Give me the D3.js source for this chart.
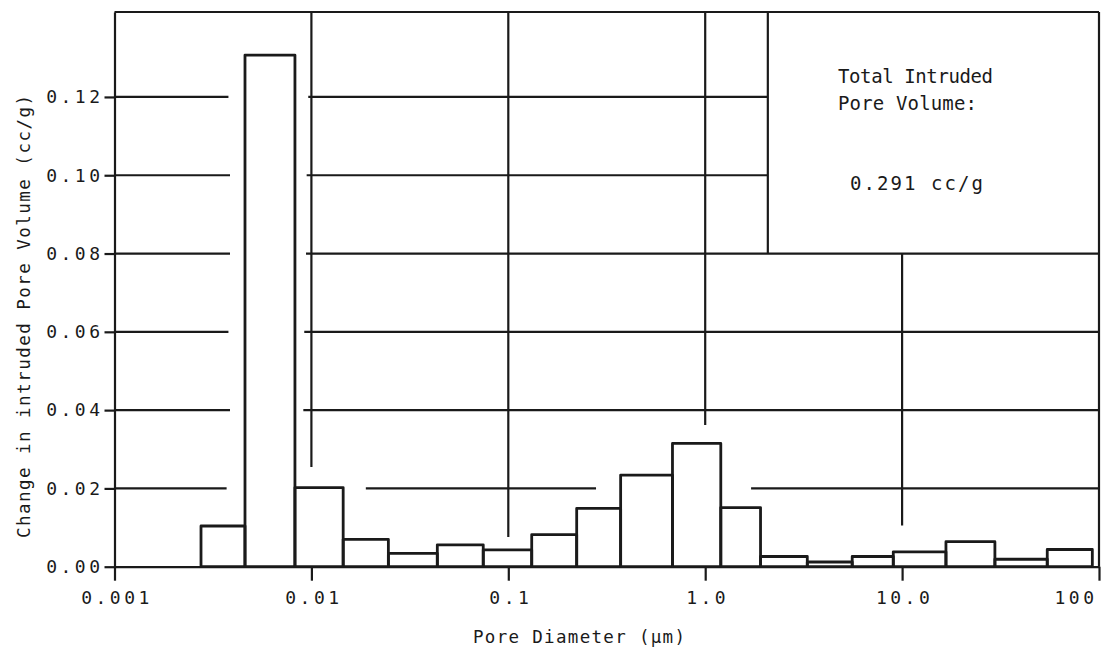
<!DOCTYPE html>
<html>
<head>
<meta charset="utf-8">
<script src="https://cdn.jsdelivr.net/npm/d3@7"></script>
<style>
  body { margin: 0; background: #fff; }
  svg { display: block; }
  text { font-family: "DejaVu Sans Mono", monospace; fill: #1a1a1a; }
</style>
</head>
<body>
<svg id="chart"></svg>
<script>
// bin edges (pore diameter, um) and change in intruded volume per bin (cc/g)
const binEdges = [0.00275, 0.0046, 0.00825, 0.0145, 0.0246, 0.0436, 0.0746, 0.1315, 0.2225, 0.372,
                  0.682, 1.2, 1.91, 3.3, 5.58, 9.02, 16.7, 29.6, 54.6, 92.5];
const volumes = [0.0104, 0.1307, 0.0202, 0.0070, 0.0034, 0.0056, 0.0043, 0.0082, 0.0149, 0.0234,
                 0.0315, 0.0151, 0.0026, 0.0012, 0.0026, 0.0038, 0.0064, 0.0019, 0.0044];

const xTicks = [0.001, 0.01, 0.1, 1, 10, 100];
const xTickLabels = ["0.001", "0.01", "0.1", "1.0", "10.0", "100"];
const yTicks = [0, 0.02, 0.04, 0.06, 0.08, 0.10, 0.12];
const yTickLabels = ["0.00", "0.02", "0.04", "0.06", "0.08", "0.10", "0.12"];

// broken grid lines as drawn on the original plot
const hGridY = [0.12, 0.12, 0.10, 0.10, 0.08, 0.08, 0.06, 0.06, 0.04, 0.04, 0.02, 0.02, 0.02];
const hGridFrom = [0.001, 0.00964, 0.001, 0.00946, 0.001, 0.00939, 0.001, 0.0092, 0.001, 0.0091, 0.001, 0.0189, 1.71];
const hGridTo = [0.00379, 2.08, 0.00386, 2.08, 0.00386, 100, 0.00379, 100, 0.00386, 100, 0.00371, 0.279, 100];
const vGridX = [0.01, 0.1, 1, 10, 2.08];
const vGridFrom = [0.0255, 0.0076, 0.0362, 0.0105, 0.08];
const vGridTo = [null, null, null, 0.08, null]; // null = top of plot

const noteLines = ["Total Intruded", "Pore Volume:", "0.291 cc/g"];

const W = 1102, H = 647;
const margin = { top: 12, right: 3, bottom: 80.3, left: 114.5 };
const yMax = 0.1417;

const svg = d3.select("#chart").attr("width", W).attr("height", H);

const x = d3.scaleLog().domain([0.001, 100]).range([margin.left, W - margin.right]);
const y = d3.scaleLinear().domain([0, yMax]).range([H - margin.bottom, margin.top]);

const ink = "#1a1a1a";

// grid
const grid = svg.append("g").attr("stroke", ink).attr("stroke-width", 2.2);
grid.selectAll("line.h")
    .data(hGridY)
    .join("line")
    .attr("class", "h")
    .attr("x1", (d, i) => x(hGridFrom[i]))
    .attr("x2", (d, i) => x(hGridTo[i]))
    .attr("y1", d => y(d))
    .attr("y2", d => y(d));
grid.selectAll("line.v")
    .data(vGridX)
    .join("line")
    .attr("class", "v")
    .attr("x1", d => x(d))
    .attr("x2", d => x(d))
    .attr("y1", (d, i) => y(vGridFrom[i]))
    .attr("y2", (d, i) => y(vGridTo[i] === null ? yMax : vGridTo[i]));

// frame top & right
grid.append("line")
    .attr("x1", x(0.001)).attr("x2", x(100))
    .attr("y1", y(yMax)).attr("y2", y(yMax));
grid.append("line")
    .attr("x1", x(100)).attr("x2", x(100))
    .attr("y1", y(yMax)).attr("y2", y(0));

// bars
svg.append("g")
    .selectAll("rect")
    .data(volumes)
    .join("rect")
    .attr("x", (d, i) => x(binEdges[i]))
    .attr("width", (d, i) => x(binEdges[i + 1]) - x(binEdges[i]))
    .attr("y", d => y(d))
    .attr("height", d => y(0) - y(d))
    .attr("fill", "none")
    .attr("stroke", ink)
    .attr("stroke-width", 2.8)
    .attr("stroke-linejoin", "round");

// axes
const xAxis = d3.axisBottom(x)
    .tickValues(xTicks)
    .tickFormat((d, i) => xTickLabels[i])
    .tickSize(14)
    .tickSizeOuter(0)
    .tickPadding(11);
const gx = svg.append("g")
    .attr("transform", `translate(0,${y(0)})`)
    .call(xAxis);

const yAxis = d3.axisLeft(y)
    .tickValues(yTicks)
    .tickFormat((d, i) => yTickLabels[i])
    .tickSize(10)
    .tickSizeOuter(0)
    .tickPadding(5);
const gy = svg.append("g")
    .attr("transform", `translate(${margin.left},0)`)
    .call(yAxis);

[gx, gy].forEach(g => {
    g.selectAll("path, line").attr("stroke", ink).attr("stroke-width", 2.2);
    g.selectAll("text")
        .attr("fill", ink)
        .style("font-family", '"DejaVu Sans Mono", monospace')
        .style("font-size", "18px")
        .style("letter-spacing", "3.5px");
});
gx.selectAll("text").attr("dx", "2px");
gx.selectAll("text").filter((d, i) => i === xTicks.length - 1)
    .attr("text-anchor", "end").attr("dx", "0px").attr("x", -2);
gy.selectAll("text").attr("dx", "4px");

// axis titles
svg.append("text")
    .attr("x", 473)
    .attr("y", 643)
    .attr("textLength", 212)
    .attr("lengthAdjust", "spacing")
    .style("font-size", "17.5px")
    .text("Pore Diameter (\u00b5m)");

svg.append("text")
    .attr("transform", "translate(30,538) rotate(-90)")
    .attr("textLength", 443)
    .attr("lengthAdjust", "spacing")
    .style("font-size", "17.5px")
    .text("Change in intruded Pore Volume (cc/g)");

// note in the box
const noteX = [838, 838, 850];
const noteY = [83, 110, 190];
const noteW = [155, 139, 133];
svg.append("g")
    .selectAll("text")
    .data(noteLines)
    .join("text")
    .attr("x", (d, i) => noteX[i])
    .attr("y", (d, i) => noteY[i])
    .attr("textLength", (d, i) => noteW[i])
    .attr("lengthAdjust", "spacing")
    .style("font-size", "19px")
    .text(d => d);
</script>
</body>
</html>
